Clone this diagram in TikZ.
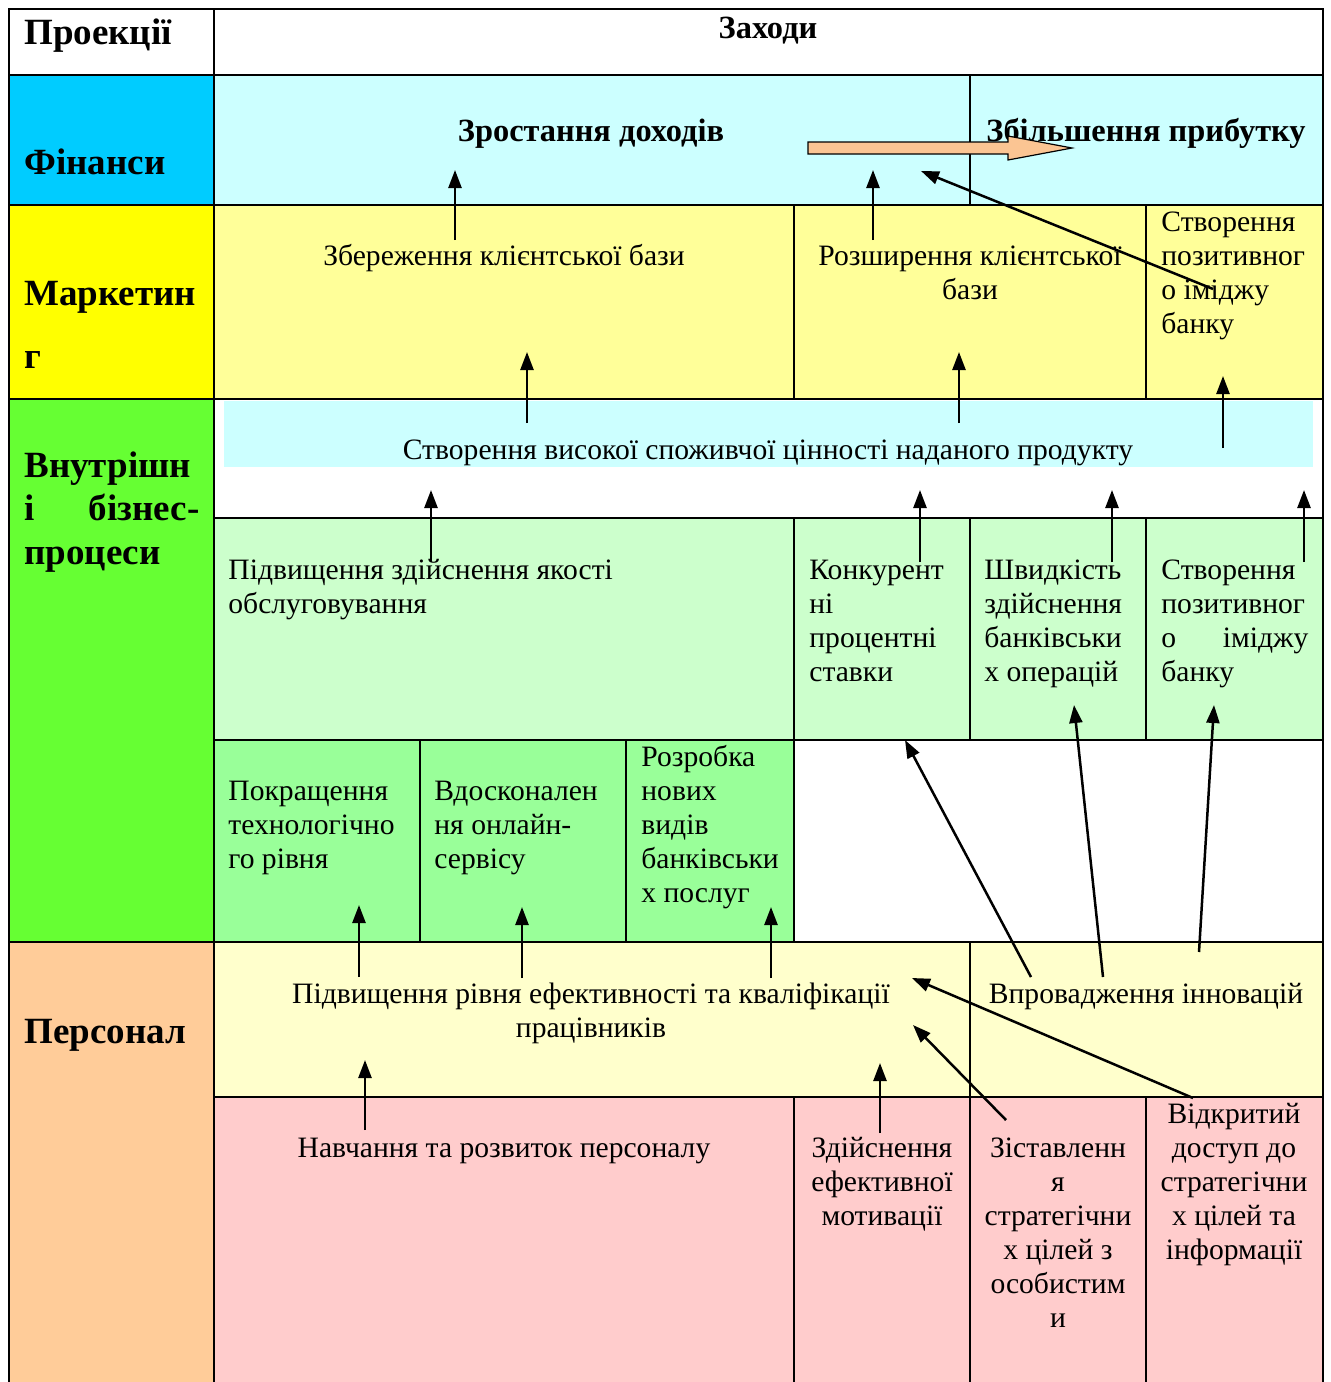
\documentclass[tikz,border=0pt]{standalone}
\usepackage{fontspec}
\setmainfont{Liberation Serif}
\usetikzlibrary{arrows.meta}
\definecolor{cFinL}{HTML}{00CCFF}
\definecolor{cFinC}{HTML}{CCFFFF}
\definecolor{cMkL}{HTML}{FFFF00}
\definecolor{cMkC}{HTML}{FFFF99}
\definecolor{cInL}{HTML}{66FF33}
\definecolor{cInA}{HTML}{CCFFCC}
\definecolor{cInB}{HTML}{99FF99}
\definecolor{cPeL}{HTML}{FFCC99}
\definecolor{cPeA}{HTML}{FFFFCC}
\definecolor{cPeB}{HTML}{FFCCCC}
\definecolor{cOr}{HTML}{FBC593}
\begin{document}
\begin{tikzpicture}[x=0.5pt,y=-0.5pt,
  body/.style={font=\fontsize{14.8}{17}\selectfont, inner sep=0pt},
  bodyl/.style={body, align=left, anchor=base west},
  bodyc/.style={body, align=center, anchor=base},
  lbl/.style={font=\fontsize{18.5}{21.75}\selectfont\bfseries, inner sep=0pt, align=left, anchor=base west},
  fbold/.style={font=\fontsize{16.2}{19}\selectfont\bfseries, inner sep=0pt, anchor=base},
  grid/.style={line width=1.2pt, black},
  arr/.style={-{Triangle[length=9pt,width=6.5pt]}, line width=1.25pt, black}]
\useasboundingbox (0,0) rectangle (1330,1382);
% fills
\fill[white] (9,9) rectangle (1323,75);
\fill[cFinL] (9,75) rectangle (214,205);
\fill[cFinC] (214,75) rectangle (1323,205);
\fill[cMkL] (9,205) rectangle (214,399);
\fill[cMkC] (214,205) rectangle (1323,399);
\fill[cInL] (9,399) rectangle (214,942);
\fill[white] (214,399) rectangle (1323,518);
\fill[cFinC] (224,401) rectangle (1313,467);
\fill[cInA] (214,518) rectangle (1323,740);
\fill[cInB] (214,740) rectangle (794,942);
\fill[white] (794,740) rectangle (1323,942);
\fill[cPeL] (9,942) rectangle (214,1382);
\fill[cPeA] (214,942) rectangle (1323,1097);
\fill[cPeB] (214,1097) rectangle (1323,1382);
% grid
\draw[grid] (9,1382) -- (9,9) -- (1323,9) -- (1323,1382);
\draw[grid] (214,9) -- (214,1382);
\foreach \yy in {75,205,399,942} \draw[grid] (9,\yy) -- (1323,\yy);
\foreach \yy in {518,740,1097} \draw[grid] (214,\yy) -- (1323,\yy);
\draw[grid] (970,75) -- (970,205);
\foreach \xx in {794,1146} \draw[grid] (\xx,205) -- (\xx,399);
\foreach \xx in {794,970,1146} \draw[grid] (\xx,518) -- (\xx,740);
\foreach \xx in {420,626,794} \draw[grid] (\xx,740) -- (\xx,942);
\draw[grid] (970,942) -- (970,1097);
\foreach \xx in {794,970,1146} \draw[grid] (\xx,1097) -- (\xx,1382);
% texts (multi-line nodes anchored at the baseline of their last line)
\node[lbl] (proj) at (24,44) {Проекції};
\node[fbold] (zah) at (768,38) {Заходи};
\node[lbl] (fin) at (24,174) {Фінанси};
\node[fbold] (zd) at (591,141) {Зростання доходів};
\node[fbold] (zp) at (1146,141) {Збільшення прибутку};
\node[lbl] (mk1) at (24,305) {Маркетин};
\node[lbl] (mk2) at (24,368) {г};
\node[body, anchor=base] (zkb) at (504,265) {Збереження клієнтської бази};
\node[bodyc] (rkb) at (970,299) {Розширення клієнтської\\бази};
\node[bodyl] (spi1) at (1161,333) {Створення\\позитивног\\о іміджу\\банку};
\node[lbl] (vbp) at (24,564) {Внутрішн\\\hbox to 87.5pt{і\hfill бізнес-}\\процеси};
\node[body, anchor=base] (svc) at (768,459) {Створення високої споживчої цінності наданого продукту};
\node[bodyl] (pzy) at (228,613) {Підвищення здійснення якості\\обслуговування};
\node[bodyl] (kps) at (809,681) {Конкурент\\ні\\процентні\\ставки};
\node[bodyl] (shv) at (984,681) {Швидкість\\здійснення\\банківськи\\х операцій};
\node[bodyl] (spi2) at (1161,681) {Створення\\позитивног\\\hbox to 73.5pt{о\hfill іміджу}\\банку};
\node[bodyl] (ptr) at (228,868) {Покращення\\технологічно\\го рівня};
\node[bodyl] (vos) at (434,868) {Вдосконален\\ня онлайн-\\сервісу};
\node[bodyl] (rnv) at (641,902) {Розробка\\нових\\видів\\банківськи\\х послуг};
\node[lbl] (pers) at (24,1043) {Персонал};
\node[bodyc] (prek) at (591,1037) {Підвищення рівня ефективності та кваліфікації\\працівників};
\node[body, anchor=base] (vin) at (1146,1003) {Впровадження інновацій};
\node[body, anchor=base] (nrp) at (504,1157) {Навчання та розвиток персоналу};
\node[bodyc] (zem) at (882,1225) {Здійснення\\ефективної\\мотивації};
\node[bodyc] (zsc) at (1058,1327) {Зіставленн\\я\\стратегічни\\х цілей з\\особистим\\и};
\node[bodyc] (vds) at (1234,1259) {Відкритий\\доступ до\\стратегічни\\х цілей та\\інформації};
% orange block arrow
\coordinate (ob) at (808,148);
\coordinate (ot) at (1072,148);
\filldraw[fill=cOr, draw=black, line width=0.6pt] (ob) ++(0,-6) -- (1008,142) -- (1008,136) -- (ot) -- (1008,160) -- (1008,154) -- (808,154) -- cycle;
% arrow coordinates
\coordinate (a1s) at (455,240); \coordinate (a1e) at (455,170);
\coordinate (a2s) at (873,240); \coordinate (a2e) at (873,170);
\coordinate (a3s) at (1213,289); \coordinate (a3e) at (921,171);
\coordinate (a4s) at (527,423); \coordinate (a4e) at (527,352);
\coordinate (a5s) at (959,423); \coordinate (a5e) at (959,352);
\coordinate (a6s) at (1223,448); \coordinate (a6e) at (1223,376);
\coordinate (a7s) at (431,562); \coordinate (a7e) at (431,490);
\coordinate (a8s) at (920,562); \coordinate (a8e) at (920,490);
\coordinate (a9s) at (1112,562); \coordinate (a9e) at (1112,490);
\coordinate (a10s) at (1304,562); \coordinate (a10e) at (1304,490);
\coordinate (a11s) at (359,977); \coordinate (a11e) at (359,905);
\coordinate (a12s) at (522,978); \coordinate (a12e) at (522,907);
\coordinate (a13s) at (771,978); \coordinate (a13e) at (771,907);
\coordinate (a14s) at (1031,977); \coordinate (a14e) at (905,740);
\coordinate (a15s) at (1103,977); \coordinate (a15e) at (1074,705);
\coordinate (a16s) at (1199,952); \coordinate (a16e) at (1214,705);
\coordinate (a17s) at (1193,1098); \coordinate (a17e) at (912,978);
\coordinate (a18s) at (1006,1120); \coordinate (a18e) at (913,1025);
\coordinate (a19s) at (880,1133); \coordinate (a19e) at (880,1063);
\coordinate (a20s) at (365,1130); \coordinate (a20e) at (365,1060);
\foreach \i in {1,...,20} \draw[arr] (a\i s) -- (a\i e);
\end{tikzpicture}
\end{document}
